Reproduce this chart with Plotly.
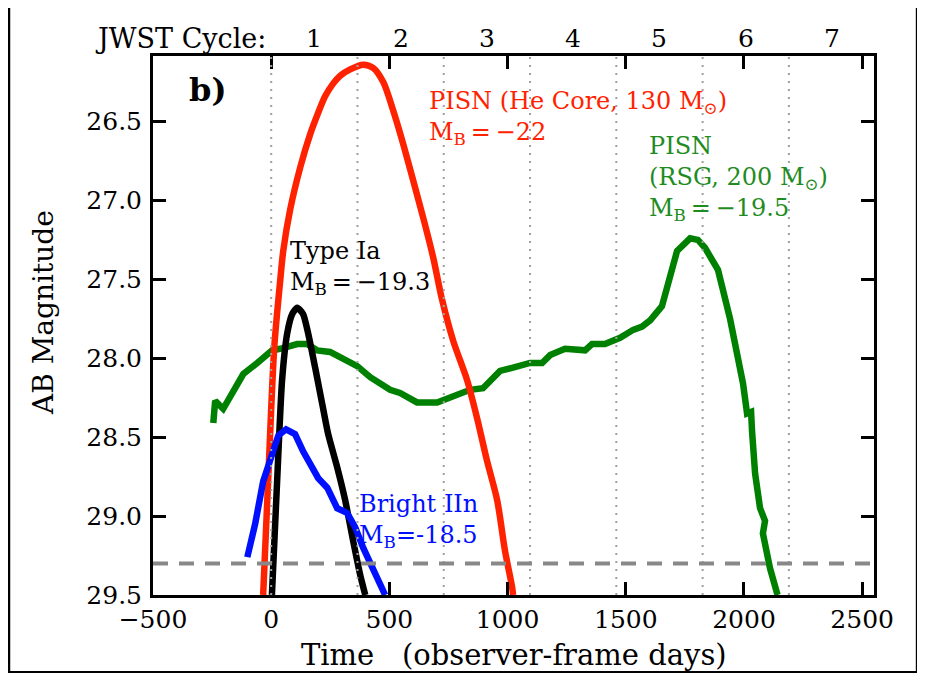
import plotly.graph_objects as go

# ---------------- data ----------------
pisn_he_days = [-34, -13, 13, 38, 51, 80, 123, 165, 200, 228, 262, 292, 334, 389, 431, 474, 516, 558,
                600, 643, 685, 723, 770, 829, 871, 913, 956, 989, 1019, 1023]
pisn_he_mag = [29.5, 28.78, 27.93, 27.51, 27.32, 27.06, 26.79, 26.58, 26.44, 26.34, 26.26, 26.21,
               26.17, 26.14, 26.16, 26.25, 26.43, 26.64, 26.87, 27.11, 27.36, 27.63, 27.89, 28.14,
               28.38, 28.65, 28.90, 29.22, 29.45, 29.5]

ia_days = [3, 25, 46, 68, 89, 110, 135, 156, 186, 216, 241, 279, 313, 347, 376, 398]
ia_mag = [29.5, 28.78, 28.14, 27.84, 27.72, 27.68, 27.72, 27.84, 28.06, 28.29, 28.48, 28.69,
          28.90, 29.16, 29.37, 29.5]

iin_days = [-101, -68, -34, -4, 30, 63, 101, 135, 173, 199, 237, 279, 321, 355, 389, 431, 474, 482]
iin_mag = [29.26, 29.05, 28.78, 28.63, 28.49, 28.45, 28.48, 28.59, 28.69, 28.76, 28.82, 28.95,
           28.98, 29.07, 29.20, 29.33, 29.47, 29.5]

pisn_rsg_days = [-245, -237, -203, -161, -118, -59, 4, 38, 110, 152, 194, 249, 304, 364, 419,
                 503, 545, 617, 702, 770, 841, 896, 968, 1023, 1095, 1146, 1180, 1243, 1294,
                 1328, 1357, 1412, 1476, 1531, 1569, 1603, 1653, 1717, 1772, 1805, 1835, 1890,
                 1941, 1996, 2013, 2030, 2034, 2047, 2068, 2089, 2080, 2110, 2140, 2142]
pisn_rsg_mag = [28.41, 28.27, 28.32, 28.22, 28.10, 28.03, 27.95, 27.94, 27.91, 27.91, 27.95,
                27.96, 28.00, 28.05, 28.12, 28.20, 28.22, 28.28, 28.28, 28.24, 28.20, 28.19,
                28.08, 28.06, 28.03, 28.03, 27.98, 27.94, 27.94, 27.95, 27.91, 27.91, 27.87,
                27.82, 27.80, 27.76, 27.67, 27.32, 27.24, 27.25, 27.30, 27.44, 27.75, 28.16,
                28.35, 28.34, 28.46, 28.73, 28.95, 29.03, 29.11, 29.33, 29.49, 29.5]

detection_limit = 29.3

cycle_boundaries = [0, 365, 730, 1095, 1460, 1825, 2190, 2555]
cycle_labels = ["1", "2", "3", "4", "5", "6", "7"]

x_tickvals = [-500, 0, 500, 1000, 1500, 2000, 2500]
x_ticktext = ["\u2212500", "0", "500", "1000", "1500", "2000", "2500"]
y_tickvals = [26.5, 27.0, 27.5, 28.0, 28.5, 29.0, 29.5]
y_ticktext = ["26.5", "27.0", "27.5", "28.0", "28.5", "29.0", "29.5"]

FONT = "DejaVu Serif"
RED = "#ff2200"
GREEN = "#008000"
GREEN_TXT = "#1f8c1f"
BLUE = "#0010ff"

fig = go.Figure()
lw = 6.5
fig.add_trace(go.Scatter(x=pisn_rsg_days, y=pisn_rsg_mag, mode="lines",
                         line=dict(color=GREEN, width=lw), showlegend=False))
fig.add_trace(go.Scatter(x=pisn_he_days, y=pisn_he_mag, mode="lines",
                         line=dict(color=RED, width=lw, shape="spline", smoothing=0.8),
                         showlegend=False))
fig.add_trace(go.Scatter(x=ia_days, y=ia_mag, mode="lines",
                         line=dict(color="black", width=lw, shape="spline", smoothing=0.6),
                         showlegend=False))
fig.add_trace(go.Scatter(x=iin_days, y=iin_mag, mode="lines",
                         line=dict(color=BLUE, width=lw), showlegend=False))

# white page area on black background
fig.add_shape(type="rect", xref="paper", yref="paper", x0=-0.198, x1=1.058, y0=-0.141, y1=1.095,
              fillcolor="white", line=dict(width=0), layer="below")

# cycle boundaries (dotted)
for b in cycle_boundaries[:-1]:
    fig.add_shape(type="line", xref="x", yref="paper", x0=b, x1=b, y0=0, y1=1,
                  line=dict(color="#a0a0a0", width=2, dash="2px,6px"))
# detection limit (dashed)
fig.add_shape(type="line", xref="paper", yref="y", x0=0, x1=1, y0=detection_limit, y1=detection_limit,
              line=dict(color="#888888", width=4, dash="15px,11px"))

# top cycle labels
for i, lab in enumerate(cycle_labels):
    mid = 0.5 * (cycle_boundaries[i] + cycle_boundaries[i + 1])
    fig.add_annotation(x=mid, y=1.033, xref="x", yref="paper", text=lab, showarrow=False,
                       font=dict(family=FONT, size=25, color="black"), xanchor="center", yanchor="middle")
fig.add_annotation(x=-13, y=1.033, xref="x", yref="paper", text="JWST Cycle:", showarrow=False,
                   font=dict(family=FONT, size=27, color="black"), xanchor="right", yanchor="middle")

# axis titles
fig.add_annotation(x=0.5, y=-0.1113, xref="paper", yref="paper",
                   text="Time\u00a0\u00a0\u00a0(observer-frame days)", showarrow=False,
                   font=dict(family=FONT, size=29, color="black"), xanchor="center", yanchor="middle")
fig.add_annotation(x=-0.1526, y=0.525, xref="paper", yref="paper", text="AB Magnitude",
                   textangle=-90, showarrow=False,
                   font=dict(family=FONT, size=28, color="black"), xanchor="center", yanchor="middle")

def label(x, y, text, color, size=24):
    fig.add_annotation(x=x, y=y, xref="x", yref="y", text=text, showarrow=False, align="left",
                       font=dict(family=FONT, size=size, color=color), xanchor="left", yanchor="middle")

label(-358, 26.30, "<b>b)</b>", "black", size=32)
label(660, 26.48, "PISN (He Core, 130 M<sub>\u2299</sub>)<br>M<sub>B</sub>\u2009=\u2009\u221222", RED)
label(1590, 26.86, "PISN<br>(RSG, 200 M<sub>\u2299</sub>)<br>M<sub>B</sub>\u2009=\u2009\u221219.5", GREEN_TXT)
label(72, 27.43, "Type Ia<br>M<sub>B</sub>\u2009=\u2009\u221219.3", "black")
label(364, 29.03, "Bright IIn<br>M<sub>B</sub>=-18.5", BLUE)

axis_common = dict(showline=True, linecolor="black", linewidth=3, mirror="ticks",
                   ticks="inside", ticklen=13, tickwidth=3, tickcolor="black",
                   showgrid=False, zeroline=False,
                   tickfont=dict(family=FONT, size=25, color="black"))
fig.update_xaxes(range=[-500, 2550], tickvals=x_tickvals, ticktext=x_ticktext, **axis_common)
fig.update_yaxes(range=[29.5, 26.085], tickvals=y_tickvals, ticktext=y_ticktext,
                 ticklabelstandoff=3, **axis_common)

fig.update_layout(width=925, height=673, margin=dict(l=145, r=59, t=48, b=86, autoexpand=False),
                  paper_bgcolor="black", plot_bgcolor="white", showlegend=False)

fig.write_html("out.html")
